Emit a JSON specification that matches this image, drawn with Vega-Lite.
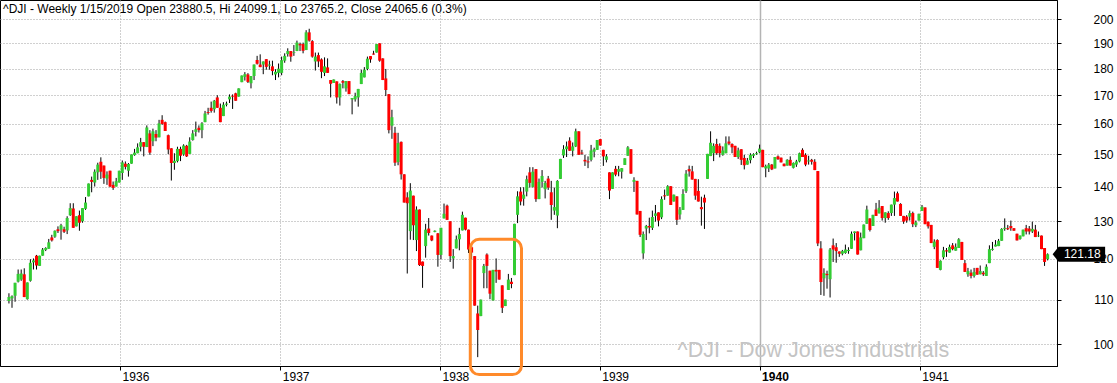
{
  "$schema": "https://vega.github.io/schema/vega-lite/v6.json",
  "width": 1057,
  "height": 366,
  "autosize": "none",
  "padding": {"left": 0, "top": 0, "right": 60, "bottom": 17},
  "background": "white",
  "config": {
    "view": {"stroke": "black", "strokeWidth": 1},
    "font": "Liberation Sans"
  },
  "title": {
    "text": "^DJI - Weekly 1/15/2019 Open 23880.5, Hi 24099.1, Lo 23765.2, Close 24065.6 (0.3%)",
    "anchor": "start",
    "frame": "group",
    "orient": "top",
    "offset": -25,
    "baseline": "alphabetic",
    "dx": 3,
    "fontSize": 12,
    "fontWeight": "normal",
    "color": "black",
    "font": "Liberation Sans"
  },
  "datasets": {
    "candles": [
      {"d":"1935-04-22","o":109.7,"h":111.5,"l":109.1,"c":110.6},
      {"d":"1935-04-29","o":110.3,"h":111,"l":108.1,"c":110.8},
      {"d":"1935-05-06","o":110.9,"h":114,"l":109.5,"c":114},
      {"d":"1935-05-13","o":114.3,"h":117.3,"l":114.1,"c":116.2},
      {"d":"1935-05-20","o":114.8,"h":117.3,"l":114.5,"c":116.3},
      {"d":"1935-05-27","o":116.1,"h":117.6,"l":110.6,"c":110.6},
      {"d":"1935-06-03","o":110.1,"h":114.1,"l":110,"c":114.1},
      {"d":"1935-06-10","o":114.5,"h":119.9,"l":114.3,"c":119},
      {"d":"1935-06-17","o":119.1,"h":120.1,"l":117.3,"c":119.6},
      {"d":"1935-06-24","o":120.8,"h":121,"l":117.3,"c":118.3},
      {"d":"1935-07-01","o":118.2,"h":120.8,"l":118.2,"c":120.8},
      {"d":"1935-07-08","o":120.8,"h":122.8,"l":120.8,"c":122.4},
      {"d":"1935-07-15","o":122.3,"h":123,"l":122,"c":122.8},
      {"d":"1935-07-22","o":122.6,"h":125.2,"l":122.6,"c":124.3},
      {"d":"1935-07-29","o":125.6,"h":126.3,"l":124.5,"c":124.8},
      {"d":"1935-08-05","o":125.8,"h":127.5,"l":125.5,"c":127.4},
      {"d":"1935-08-12","o":127.8,"h":128.6,"l":126.8,"c":127.3},
      {"d":"1935-08-19","o":127.7,"h":129.3,"l":125,"c":128.9},
      {"d":"1935-08-26","o":127.8,"h":128.5,"l":126.8,"c":127.1},
      {"d":"1935-09-02","o":127.5,"h":131.4,"l":126.5,"c":130.9},
      {"d":"1935-09-09","o":131.7,"h":135.1,"l":131.5,"c":133.7},
      {"d":"1935-09-16","o":133.6,"h":135.1,"l":128.2,"c":128.2},
      {"d":"1935-09-23","o":128.6,"h":131.4,"l":128.6,"c":131.4},
      {"d":"1935-09-30","o":131.7,"h":133,"l":127.4,"c":129.6},
      {"d":"1935-10-07","o":130,"h":133.7,"l":129.6,"c":133.7},
      {"d":"1935-10-14","o":133.5,"h":136.9,"l":133.2,"c":135.3},
      {"d":"1935-10-21","o":137.1,"h":140.9,"l":137.1,"c":140.9},
      {"d":"1935-10-28","o":142,"h":143,"l":138.3,"c":141.4},
      {"d":"1935-11-04","o":141.2,"h":145.2,"l":140,"c":144.5},
      {"d":"1935-11-11","o":144.3,"h":147.3,"l":142,"c":146.7},
      {"d":"1935-11-18","o":147.6,"h":149,"l":142.3,"c":144.5},
      {"d":"1935-11-25","o":146.4,"h":146.4,"l":140.8,"c":142.6},
      {"d":"1935-12-02","o":142.4,"h":144.6,"l":140.5,"c":143.6},
      {"d":"1935-12-09","o":144.8,"h":144.8,"l":139.8,"c":140},
      {"d":"1935-12-16","o":140.5,"h":141.5,"l":139,"c":139.6},
      {"d":"1935-12-23","o":140,"h":142.6,"l":140,"c":141.6},
      {"d":"1935-12-30","o":141.2,"h":144.8,"l":141.2,"c":144.8},
      {"d":"1936-01-06","o":144.1,"h":148,"l":142,"c":147.4},
      {"d":"1936-01-13","o":147,"h":147.7,"l":145.2,"c":146},
      {"d":"1936-01-20","o":144.8,"h":147.2,"l":143,"c":146.9},
      {"d":"1936-01-27","o":147,"h":149.9,"l":147,"c":149.9},
      {"d":"1936-02-03","o":149.7,"h":151.7,"l":149.5,"c":150.5},
      {"d":"1936-02-10","o":150.3,"h":153.5,"l":150.3,"c":152.2},
      {"d":"1936-02-17","o":152.4,"h":155.3,"l":150.9,"c":153.9},
      {"d":"1936-02-24","o":153.9,"h":153.9,"l":149.3,"c":152.4},
      {"d":"1936-03-02","o":152.3,"h":159.5,"l":152.3,"c":158.8},
      {"d":"1936-03-09","o":156.8,"h":157.9,"l":149.8,"c":150.5},
      {"d":"1936-03-16","o":154.2,"h":158.4,"l":152.6,"c":157.5},
      {"d":"1936-03-23","o":156.6,"h":157.9,"l":154.2,"c":155.4},
      {"d":"1936-03-30","o":155.5,"h":161.4,"l":155.5,"c":160.2},
      {"d":"1936-04-06","o":161.4,"h":163,"l":159.7,"c":160},
      {"d":"1936-04-13","o":160.6,"h":160.8,"l":157.6,"c":157.6},
      {"d":"1936-04-20","o":156.2,"h":156.4,"l":150,"c":151.5},
      {"d":"1936-04-27","o":151.9,"h":151.9,"l":141.8,"c":147.2},
      {"d":"1936-05-04","o":147.2,"h":150.3,"l":145.1,"c":147.9},
      {"d":"1936-05-11","o":147.8,"h":152.4,"l":147.4,"c":151.7},
      {"d":"1936-05-18","o":151.7,"h":152.4,"l":147.8,"c":149.5},
      {"d":"1936-05-25","o":149.9,"h":153.2,"l":149.5,"c":152.8},
      {"d":"1936-06-01","o":152.7,"h":153,"l":149.1,"c":149.3},
      {"d":"1936-06-08","o":150.1,"h":155.5,"l":150.1,"c":154.1},
      {"d":"1936-06-15","o":154.6,"h":157.9,"l":154.4,"c":156.8},
      {"d":"1936-06-22","o":157.3,"h":160.8,"l":155.8,"c":158.2},
      {"d":"1936-06-29","o":158.7,"h":159.5,"l":157.1,"c":157.9},
      {"d":"1936-07-06","o":157.9,"h":160.6,"l":155.2,"c":160.2},
      {"d":"1936-07-13","o":160.6,"h":164.5,"l":160.6,"c":163.6},
      {"d":"1936-07-20","o":164.1,"h":165.6,"l":163.2,"c":163.8},
      {"d":"1936-07-27","o":165.6,"h":167.8,"l":163.9,"c":164.5},
      {"d":"1936-08-03","o":165.1,"h":168.4,"l":163.9,"c":168.1},
      {"d":"1936-08-10","o":169.3,"h":170.1,"l":165.6,"c":165.6},
      {"d":"1936-08-17","o":165.6,"h":167.1,"l":160.6,"c":160.6},
      {"d":"1936-08-24","o":162.7,"h":167.6,"l":162.7,"c":166.7},
      {"d":"1936-08-31","o":166.7,"h":167.8,"l":166.1,"c":167.1},
      {"d":"1936-09-07","o":168.6,"h":170.4,"l":167.3,"c":169.6},
      {"d":"1936-09-14","o":169.9,"h":170.4,"l":165.2,"c":169.6},
      {"d":"1936-09-21","o":170.8,"h":171,"l":168.1,"c":168.1},
      {"d":"1936-09-28","o":169.6,"h":172.6,"l":169.6,"c":172.6},
      {"d":"1936-10-05","o":174.9,"h":177.4,"l":174.9,"c":177.4},
      {"d":"1936-10-12","o":176.9,"h":178.7,"l":175.5,"c":177.9},
      {"d":"1936-10-19","o":177.8,"h":178.3,"l":174.6,"c":175},
      {"d":"1936-10-26","o":174.5,"h":177.2,"l":172.6,"c":177.2},
      {"d":"1936-11-02","o":177.2,"h":181.6,"l":175.7,"c":181.6},
      {"d":"1936-11-09","o":183.4,"h":185,"l":181.6,"c":181.9},
      {"d":"1936-11-16","o":181.6,"h":185.6,"l":180.6,"c":180.6},
      {"d":"1936-11-23","o":181.6,"h":182.8,"l":177.9,"c":182.8},
      {"d":"1936-11-30","o":183.7,"h":183.7,"l":179.6,"c":180.7},
      {"d":"1936-12-07","o":181.2,"h":183.1,"l":179.6,"c":181.6},
      {"d":"1936-12-14","o":180.9,"h":183.1,"l":177.5,"c":179.1},
      {"d":"1936-12-21","o":177.8,"h":179.8,"l":175.7,"c":178.8},
      {"d":"1936-12-28","o":178.4,"h":182,"l":176.7,"c":180},
      {"d":"1937-01-04","o":178.4,"h":184.7,"l":177.5,"c":183.3},
      {"d":"1937-01-11","o":183.1,"h":186,"l":182.3,"c":185},
      {"d":"1937-01-18","o":185.7,"h":188,"l":184.7,"c":186.9},
      {"d":"1937-01-25","o":186.9,"h":186.9,"l":182.7,"c":184.7},
      {"d":"1937-02-01","o":186.1,"h":189.3,"l":185,"c":186.4},
      {"d":"1937-02-08","o":186.9,"h":191.1,"l":186.9,"c":190.3},
      {"d":"1937-02-15","o":189.7,"h":190.3,"l":186.9,"c":189.2},
      {"d":"1937-02-22","o":189.7,"h":190.3,"l":186,"c":187},
      {"d":"1937-03-01","o":187.3,"h":195.4,"l":187.3,"c":194.5},
      {"d":"1937-03-08","o":194.5,"h":196,"l":190.7,"c":191.1},
      {"d":"1937-03-15","o":190.9,"h":191.3,"l":184.3,"c":184.7},
      {"d":"1937-03-22","o":182.8,"h":186.3,"l":179.3,"c":184.7},
      {"d":"1937-03-29","o":185.3,"h":186.3,"l":180.6,"c":182.8},
      {"d":"1937-04-05","o":183.6,"h":184,"l":176.4,"c":178.8},
      {"d":"1937-04-12","o":178.4,"h":184.4,"l":177.2,"c":180.9},
      {"d":"1937-04-19","o":180.5,"h":184,"l":178.4,"c":178.4},
      {"d":"1937-04-26","o":175.7,"h":175.7,"l":169.3,"c":174.3},
      {"d":"1937-05-03","o":174.6,"h":175.9,"l":174.6,"c":175.9},
      {"d":"1937-05-10","o":175.2,"h":175.2,"l":167.1,"c":169.3},
      {"d":"1937-05-17","o":169.3,"h":174.4,"l":166.4,"c":174.2},
      {"d":"1937-05-24","o":175.3,"h":175.7,"l":172.6,"c":174.7},
      {"d":"1937-05-31","o":172.6,"h":175.3,"l":171.4,"c":175.3},
      {"d":"1937-06-07","o":175.3,"h":175.3,"l":170.5,"c":170.5},
      {"d":"1937-06-14","o":168.6,"h":169.1,"l":163.3,"c":169.1},
      {"d":"1937-06-21","o":168.6,"h":171,"l":167.8,"c":169.8},
      {"d":"1937-06-28","o":169.3,"h":172.4,"l":166,"c":172.4},
      {"d":"1937-07-05","o":174.2,"h":179.6,"l":174.2,"c":178.4},
      {"d":"1937-07-12","o":176.7,"h":180.6,"l":176.7,"c":179.6},
      {"d":"1937-07-19","o":179.9,"h":184.7,"l":179.4,"c":183.9},
      {"d":"1937-07-26","o":184.9,"h":184.9,"l":182.3,"c":183.6},
      {"d":"1937-08-02","o":185.9,"h":187,"l":185.5,"c":185.5},
      {"d":"1937-08-09","o":186.3,"h":189.7,"l":186.3,"c":189.7},
      {"d":"1937-08-16","o":190,"h":190,"l":182.7,"c":183.1},
      {"d":"1937-08-23","o":184,"h":184,"l":175.7,"c":175.7},
      {"d":"1937-08-30","o":176.3,"h":179.9,"l":169.8,"c":172},
      {"d":"1937-09-06","o":170.5,"h":170.5,"l":156.8,"c":157.9},
      {"d":"1937-09-13","o":159.4,"h":164.9,"l":155,"c":162.3},
      {"d":"1937-09-20","o":157,"h":159,"l":146.3,"c":147.3},
      {"d":"1937-09-27","o":147.5,"h":157,"l":146.5,"c":153.6},
      {"d":"1937-10-04","o":154,"h":154.1,"l":142.1,"c":143.7},
      {"d":"1937-10-11","o":143.7,"h":143.7,"l":135.3,"c":135.3},
      {"d":"1937-10-18","o":136.8,"h":138.3,"l":116.3,"c":135.1},
      {"d":"1937-10-25","o":127.3,"h":141,"l":125,"c":138.8},
      {"d":"1937-11-01","o":137.3,"h":137.3,"l":124.9,"c":128.9},
      {"d":"1937-11-08","o":124.9,"h":134.2,"l":122,"c":133.3},
      {"d":"1937-11-15","o":133.3,"h":133.3,"l":118.2,"c":118.4},
      {"d":"1937-11-22","o":119.3,"h":119.3,"l":112.8,"c":118.2},
      {"d":"1937-11-29","o":123.3,"h":129.3,"l":120.3,"c":127.7},
      {"d":"1937-12-06","o":128,"h":130.9,"l":126.1,"c":126.8},
      {"d":"1937-12-13","o":126.1,"h":126.1,"l":124.6,"c":124.8},
      {"d":"1937-12-20","o":127.1,"h":127.5,"l":127,"c":127.4},
      {"d":"1937-12-27","o":126.7,"h":126.8,"l":118,"c":121},
      {"d":"1938-01-03","o":121,"h":128.2,"l":119.9,"c":128.2},
      {"d":"1938-01-10","o":130.8,"h":135,"l":130.8,"c":132.1},
      {"d":"1938-01-17","o":134.4,"h":134.7,"l":130.4,"c":130.4},
      {"d":"1938-01-24","o":130,"h":130,"l":119.2,"c":120.7},
      {"d":"1938-01-31","o":120.1,"h":122.5,"l":117.5,"c":120.7},
      {"d":"1938-02-07","o":122.7,"h":126.1,"l":122.7,"c":125.1},
      {"d":"1938-02-14","o":125.1,"h":128.2,"l":122.2,"c":126.5},
      {"d":"1938-02-21","o":127.5,"h":132.7,"l":127.5,"c":131.8},
      {"d":"1938-02-28","o":131,"h":131,"l":127.5,"c":127.7},
      {"d":"1938-03-07","o":127.7,"h":127.7,"l":121.5,"c":122.4},
      {"d":"1938-03-14","o":123,"h":123.3,"l":119.9,"c":121.6},
      {"d":"1938-03-21","o":120.7,"h":120.7,"l":108.6,"c":108.6},
      {"d":"1938-03-28","o":106.8,"h":108.6,"l":97.3,"c":103.1},
      {"d":"1938-04-04","o":106.2,"h":110,"l":106.2,"c":110},
      {"d":"1938-04-11","o":116.4,"h":118.7,"l":112.7,"c":118.2},
      {"d":"1938-04-18","o":121.1,"h":121.4,"l":112.7,"c":118.2},
      {"d":"1938-04-25","o":117,"h":117,"l":110.1,"c":111.4},
      {"d":"1938-05-02","o":109.8,"h":117.2,"l":109.8,"c":117.2},
      {"d":"1938-05-09","o":117.2,"h":120.1,"l":114,"c":116.8},
      {"d":"1938-05-16","o":117.2,"h":117.2,"l":114.8,"c":114.8},
      {"d":"1938-05-23","o":113.4,"h":113.4,"l":106.9,"c":108.1},
      {"d":"1938-05-30","o":108.5,"h":110,"l":108.5,"c":110},
      {"d":"1938-06-06","o":112.3,"h":116.2,"l":112.3,"c":114.8},
      {"d":"1938-06-13","o":114.3,"h":115.2,"l":112.7,"c":113.7},
      {"d":"1938-06-20","o":115.9,"h":129.3,"l":115.9,"c":129.3},
      {"d":"1938-06-27","o":131.8,"h":138.6,"l":129.5,"c":137.1},
      {"d":"1938-07-04","o":138.5,"h":139.8,"l":134.5,"c":135.6},
      {"d":"1938-07-11","o":136.4,"h":139.8,"l":134.4,"c":137.6},
      {"d":"1938-07-18","o":138.5,"h":143.3,"l":137.1,"c":142.2},
      {"d":"1938-07-25","o":144.3,"h":145.9,"l":139.7,"c":141.1},
      {"d":"1938-08-01","o":139.9,"h":145.9,"l":139.7,"c":144.5},
      {"d":"1938-08-08","o":145.3,"h":145.3,"l":135.5,"c":136.3},
      {"d":"1938-08-15","o":136.3,"h":142.4,"l":136.3,"c":141.4},
      {"d":"1938-08-22","o":141.4,"h":145,"l":139.7,"c":143.2},
      {"d":"1938-08-29","o":139.2,"h":141.7,"l":136.5,"c":141.1},
      {"d":"1938-09-05","o":142.4,"h":143.2,"l":139,"c":139.7},
      {"d":"1938-09-12","o":138.3,"h":141.7,"l":130.4,"c":134.6},
      {"d":"1938-09-19","o":133,"h":139.7,"l":131.8,"c":134},
      {"d":"1938-09-26","o":131.6,"h":141.9,"l":128.1,"c":141.7},
      {"d":"1938-10-03","o":142.3,"h":148.5,"l":142.3,"c":148.5},
      {"d":"1938-10-10","o":149.6,"h":152.9,"l":148.8,"c":151.6},
      {"d":"1938-10-17","o":151.6,"h":154.1,"l":149.1,"c":152.5},
      {"d":"1938-10-24","o":154.4,"h":155.5,"l":151.1,"c":151.1},
      {"d":"1938-10-31","o":151.1,"h":153.8,"l":149.3,"c":152.5},
      {"d":"1938-11-07","o":152.5,"h":158.4,"l":152.3,"c":157.5},
      {"d":"1938-11-14","o":157.5,"h":157.5,"l":149.8,"c":149.8},
      {"d":"1938-11-21","o":150.5,"h":151.4,"l":149.8,"c":150.2},
      {"d":"1938-11-28","o":148.2,"h":149.8,"l":146.3,"c":147.7},
      {"d":"1938-12-05","o":147.7,"h":149.3,"l":145.6,"c":147.4},
      {"d":"1938-12-12","o":148.2,"h":153,"l":147.7,"c":151.2},
      {"d":"1938-12-19","o":150.8,"h":152.1,"l":149,"c":151.6},
      {"d":"1938-12-26","o":151.4,"h":154.6,"l":151.4,"c":154.6},
      {"d":"1939-01-02","o":154.9,"h":154.9,"l":152.8,"c":152.8},
      {"d":"1939-01-09","o":151.4,"h":151.4,"l":146.3,"c":149.3},
      {"d":"1939-01-16","o":148.2,"h":150,"l":147.4,"c":149.3},
      {"d":"1939-01-23","o":144.3,"h":144.3,"l":136.3,"c":138.8},
      {"d":"1939-01-30","o":139.3,"h":144.3,"l":139.3,"c":144.3},
      {"d":"1939-02-06","o":145.4,"h":146.3,"l":143.1,"c":143.6},
      {"d":"1939-02-13","o":144.5,"h":146.3,"l":143.1,"c":145.3},
      {"d":"1939-02-20","o":144.5,"h":145.6,"l":142.4,"c":145.6},
      {"d":"1939-02-27","o":146.6,"h":148.7,"l":146.6,"c":148.7},
      {"d":"1939-03-06","o":149.5,"h":152.6,"l":149.5,"c":152.2},
      {"d":"1939-03-13","o":151.6,"h":151.6,"l":143.9,"c":143.9},
      {"d":"1939-03-20","o":141.4,"h":142.8,"l":138.4,"c":142},
      {"d":"1939-03-27","o":141.7,"h":141.7,"l":131.9,"c":131.9},
      {"d":"1939-04-03","o":132.9,"h":132.9,"l":125.7,"c":126.3},
      {"d":"1939-04-10","o":121.4,"h":127.2,"l":120,"c":126.5},
      {"d":"1939-04-17","o":128,"h":129,"l":124.9,"c":128.7},
      {"d":"1939-04-24","o":128.7,"h":131,"l":126.7,"c":128.3},
      {"d":"1939-05-01","o":128.2,"h":133,"l":127.6,"c":131.2},
      {"d":"1939-05-08","o":131.5,"h":134.6,"l":129.9,"c":132.2},
      {"d":"1939-05-15","o":132.5,"h":132.5,"l":128.6,"c":130.2},
      {"d":"1939-05-22","o":131.1,"h":137.1,"l":130.6,"c":136.3},
      {"d":"1939-05-29","o":137.4,"h":139.1,"l":136.1,"c":137.1},
      {"d":"1939-06-05","o":137.3,"h":140.4,"l":137.3,"c":140.1},
      {"d":"1939-06-12","o":140.1,"h":140.1,"l":134.6,"c":134.6},
      {"d":"1939-06-19","o":135.6,"h":137.6,"l":135.6,"c":137.6},
      {"d":"1939-06-26","o":137.1,"h":137.1,"l":129,"c":130.4},
      {"d":"1939-07-03","o":131.9,"h":134,"l":130.5,"c":133.3},
      {"d":"1939-07-10","o":133.2,"h":139.2,"l":133.2,"c":137.8},
      {"d":"1939-07-17","o":138.6,"h":145,"l":138.1,"c":143.9},
      {"d":"1939-07-24","o":145.3,"h":146.4,"l":143,"c":144.6},
      {"d":"1939-07-31","o":144.6,"h":146.3,"l":142.1,"c":142.1},
      {"d":"1939-08-07","o":142.3,"h":142.3,"l":136.1,"c":137.3},
      {"d":"1939-08-14","o":138.7,"h":142.2,"l":135.6,"c":135.6},
      {"d":"1939-08-21","o":134,"h":137,"l":128.8,"c":133.4},
      {"d":"1939-08-28","o":136.7,"h":137.6,"l":127.9,"c":135.3},
      {"d":"1939-09-04","o":142.3,"h":150.1,"l":142.3,"c":150.1},
      {"d":"1939-09-11","o":149.4,"h":157.5,"l":149.4,"c":153.7},
      {"d":"1939-09-18","o":150.3,"h":153.5,"l":147.8,"c":152.7},
      {"d":"1939-09-25","o":153.3,"h":155,"l":149.8,"c":150.3},
      {"d":"1939-10-02","o":152.7,"h":153.5,"l":149,"c":150.3},
      {"d":"1939-10-09","o":149.8,"h":152.5,"l":149.5,"c":151.2},
      {"d":"1939-10-16","o":150.3,"h":155.8,"l":150.3,"c":153.5},
      {"d":"1939-10-23","o":154.1,"h":155.8,"l":152.9,"c":153.4},
      {"d":"1939-10-30","o":153.3,"h":153.5,"l":150.3,"c":152.2},
      {"d":"1939-11-06","o":152.7,"h":152.7,"l":149.1,"c":149.1},
      {"d":"1939-11-13","o":149.1,"h":152.1,"l":148.5,"c":151.2},
      {"d":"1939-11-20","o":151.6,"h":151.6,"l":146.6,"c":148.2},
      {"d":"1939-11-27","o":148.8,"h":149.8,"l":145.2,"c":146.5},
      {"d":"1939-12-04","o":146.7,"h":148.8,"l":146.7,"c":148},
      {"d":"1939-12-11","o":148.1,"h":150.3,"l":147.1,"c":149.8},
      {"d":"1939-12-18","o":149.5,"h":150.3,"l":148.8,"c":150},
      {"d":"1939-12-25","o":150,"h":150.8,"l":149.8,"c":150.3},
      {"d":"1940-01-01","o":150.6,"h":153.1,"l":150.3,"c":151.8},
      {"d":"1940-01-08","o":151.4,"h":151.4,"l":145.9,"c":145.9},
      {"d":"1940-01-15","o":145.5,"h":146.7,"l":142.8,"c":146.2},
      {"d":"1940-01-22","o":145.5,"h":147.2,"l":144.4,"c":146.7},
      {"d":"1940-01-29","o":146.7,"h":146.9,"l":145,"c":145.2},
      {"d":"1940-02-05","o":145.5,"h":149.1,"l":145.5,"c":149.1},
      {"d":"1940-02-12","o":149.3,"h":149.6,"l":148.2,"c":148.4},
      {"d":"1940-02-19","o":148.9,"h":148.9,"l":147.4,"c":147.4},
      {"d":"1940-02-26","o":147,"h":147,"l":146.2,"c":146.2},
      {"d":"1940-03-04","o":146.4,"h":148.4,"l":146.4,"c":148.2},
      {"d":"1940-03-11","o":148.2,"h":149.3,"l":146.4,"c":146.4},
      {"d":"1940-03-18","o":145.7,"h":147.4,"l":145.5,"c":147.2},
      {"d":"1940-03-25","o":146.7,"h":148.2,"l":146,"c":147.7},
      {"d":"1940-04-01","o":147.7,"h":150.5,"l":147.4,"c":150.3},
      {"d":"1940-04-08","o":151.4,"h":151.9,"l":149.1,"c":149.1},
      {"d":"1940-04-15","o":149.8,"h":150.3,"l":146.2,"c":146.7},
      {"d":"1940-04-22","o":147.7,"h":149.5,"l":146.7,"c":148},
      {"d":"1940-04-29","o":148.2,"h":148.5,"l":146.7,"c":147.6},
      {"d":"1940-05-06","o":147.6,"h":148.4,"l":145,"c":145},
      {"d":"1940-05-13","o":144.7,"h":144.7,"l":123.3,"c":124},
      {"d":"1940-05-20","o":122.7,"h":124.6,"l":111.1,"c":114.2},
      {"d":"1940-05-27","o":115.1,"h":117.6,"l":110.9,"c":116.4},
      {"d":"1940-06-03","o":116.2,"h":117,"l":112.6,"c":115.9},
      {"d":"1940-06-10","o":114.9,"h":122.8,"l":110.5,"c":122.4},
      {"d":"1940-06-17","o":123.5,"h":125.3,"l":119.2,"c":122.4},
      {"d":"1940-06-24","o":123,"h":124.1,"l":119,"c":122},
      {"d":"1940-07-01","o":121.9,"h":121.9,"l":120.5,"c":121.3},
      {"d":"1940-07-08","o":121.3,"h":122.3,"l":120.9,"c":122},
      {"d":"1940-07-15","o":121.5,"h":123.7,"l":121.3,"c":122.4},
      {"d":"1940-07-22","o":122,"h":123,"l":121.3,"c":122.3},
      {"d":"1940-07-29","o":122.6,"h":127.2,"l":122.6,"c":126.6},
      {"d":"1940-08-05","o":126.8,"h":127.2,"l":124.8,"c":127.2},
      {"d":"1940-08-12","o":127.2,"h":127.2,"l":121.1,"c":121.1},
      {"d":"1940-08-19","o":122.2,"h":126.9,"l":122.2,"c":125.6},
      {"d":"1940-08-26","o":125.4,"h":129.1,"l":125.4,"c":129.1},
      {"d":"1940-09-02","o":129.3,"h":134.4,"l":129.3,"c":133.3},
      {"d":"1940-09-09","o":130.8,"h":130.8,"l":127.2,"c":127.6},
      {"d":"1940-09-16","o":128.7,"h":131.8,"l":128.7,"c":131.8},
      {"d":"1940-09-23","o":133.3,"h":135.2,"l":131.5,"c":131.5},
      {"d":"1940-09-30","o":132.2,"h":136,"l":132.2,"c":133.8},
      {"d":"1940-10-07","o":134.3,"h":134.3,"l":130.2,"c":130.9},
      {"d":"1940-10-14","o":130.9,"h":132.5,"l":129.6,"c":132.5},
      {"d":"1940-10-21","o":132.3,"h":132.8,"l":130.4,"c":130.9},
      {"d":"1940-10-28","o":132.3,"h":134.7,"l":131.5,"c":134.7},
      {"d":"1940-11-04","o":134.7,"h":138.5,"l":131.5,"c":136.6},
      {"d":"1940-11-11","o":138,"h":138.5,"l":135.6,"c":135.6},
      {"d":"1940-11-18","o":134.9,"h":135.1,"l":131.5,"c":131.5},
      {"d":"1940-11-25","o":131.5,"h":131.5,"l":129.3,"c":129.9},
      {"d":"1940-12-02","o":131.3,"h":131.7,"l":129.6,"c":130.2},
      {"d":"1940-12-09","o":131.3,"h":133,"l":130.2,"c":132.3},
      {"d":"1940-12-16","o":132.3,"h":132.7,"l":128.4,"c":129.2},
      {"d":"1940-12-23","o":128.9,"h":130.2,"l":128.4,"c":129.7},
      {"d":"1940-12-30","o":130.2,"h":132.1,"l":130.2,"c":132.1},
      {"d":"1941-01-06","o":132.9,"h":134.6,"l":132.9,"c":134.1},
      {"d":"1941-01-13","o":133.9,"h":133.9,"l":129.2,"c":129.2},
      {"d":"1941-01-20","o":129.9,"h":129.9,"l":128,"c":128.6},
      {"d":"1941-01-27","o":129,"h":129,"l":124.1,"c":124.1},
      {"d":"1941-02-03","o":123.1,"h":125.1,"l":122.5,"c":124.5},
      {"d":"1941-02-10","o":124.9,"h":125.1,"l":117.7,"c":117.7},
      {"d":"1941-02-17","o":117.2,"h":119.6,"l":117.1,"c":119.5},
      {"d":"1941-02-24","o":120.4,"h":123.1,"l":119.9,"c":122.2},
      {"d":"1941-03-03","o":122.2,"h":122.8,"l":120.5,"c":121.9},
      {"d":"1941-03-10","o":121.6,"h":123.7,"l":121.6,"c":123.1},
      {"d":"1941-03-17","o":123.5,"h":124.1,"l":122.2,"c":122.5},
      {"d":"1941-03-24","o":122.1,"h":124,"l":122.1,"c":123.1},
      {"d":"1941-03-31","o":122.8,"h":125.4,"l":122.8,"c":125.1},
      {"d":"1941-04-07","o":124.4,"h":124.4,"l":119.7,"c":119.7},
      {"d":"1941-04-14","o":118.9,"h":119.7,"l":116.7,"c":116.7},
      {"d":"1941-04-21","o":116.1,"h":117.7,"l":115.5,"c":116.9},
      {"d":"1941-04-28","o":116.5,"h":117.3,"l":115.1,"c":115.7},
      {"d":"1941-05-05","o":115.7,"h":117.7,"l":115.3,"c":116.7},
      {"d":"1941-05-12","o":117.7,"h":117.7,"l":116,"c":116},
      {"d":"1941-05-19","o":116.1,"h":118.3,"l":116.1,"c":116.9},
      {"d":"1941-05-26","o":116.5,"h":116.9,"l":115.7,"c":116.1},
      {"d":"1941-06-02","o":115.7,"h":118.6,"l":115.7,"c":118},
      {"d":"1941-06-09","o":118.9,"h":123.5,"l":118.9,"c":122.5},
      {"d":"1941-06-16","o":122.3,"h":124.4,"l":122.1,"c":122.6},
      {"d":"1941-06-23","o":123.2,"h":124.9,"l":123.2,"c":123.7},
      {"d":"1941-06-30","o":123.3,"h":125.2,"l":123.3,"c":124.7},
      {"d":"1941-07-07","o":124.7,"h":128.1,"l":124.7,"c":127.9},
      {"d":"1941-07-14","o":127.9,"h":130.8,"l":127.4,"c":128.2},
      {"d":"1941-07-21","o":128.1,"h":129,"l":127.6,"c":127.8},
      {"d":"1941-07-28","o":128.7,"h":130.2,"l":127.4,"c":128.1},
      {"d":"1941-08-04","o":128.1,"h":128.1,"l":127.4,"c":127.4},
      {"d":"1941-08-11","o":126.6,"h":126.6,"l":124.8,"c":124.8},
      {"d":"1941-08-18","o":125.2,"h":126.1,"l":125,"c":126.1},
      {"d":"1941-08-25","o":125.9,"h":127.7,"l":125.9,"c":127.7},
      {"d":"1941-09-01","o":128.1,"h":129,"l":126.4,"c":127.2},
      {"d":"1941-09-08","o":128,"h":128.7,"l":126.4,"c":127.2},
      {"d":"1941-09-15","o":127.2,"h":129.9,"l":126.8,"c":127.9},
      {"d":"1941-09-22","o":127.7,"h":129,"l":125.7,"c":125.7},
      {"d":"1941-09-29","o":125.9,"h":127.2,"l":125.7,"c":126.1},
      {"d":"1941-10-06","o":126.1,"h":126.1,"l":122.5,"c":122.5},
      {"d":"1941-10-13","o":122.8,"h":122.8,"l":118.2,"c":119.2},
      {"d":"1941-10-20","o":119.9,"h":121.4,"l":119.6,"c":121.18}
    ],
    "box": [{"start":"1938-03-11","end":"1938-07-06","lo":93.74,"hi":125.1}],
    "watermark": [{"d":"1940-05-03","v":98.58,"t":"^DJI - Dow Jones Industrials"}],
    "last": [{"d":"1941-10-20","v":121.18}]
  },
  "layer": [
    {
      "data": {"name": "candles"},
      "mark": {"type": "rule", "color": "black", "strokeWidth": 1},
      "encoding": {
        "x": {
          "field": "d", "type": "temporal", "title": null,
          "scale": {"type": "utc", "domain": [{"year":1935,"month":4,"date":13,"utc":true},{"year":1941,"month":10,"date":30,"utc":true}]},
          "axis": {
            "values": [
              {"year":1936,"month":1,"date":1,"utc":true},
              {"year":1937,"month":1,"date":1,"utc":true},
              {"year":1938,"month":1,"date":1,"utc":true},
              {"year":1939,"month":1,"date":1,"utc":true},
              {"year":1940,"month":1,"date":1,"utc":true},
              {"year":1941,"month":1,"date":1,"utc":true}
            ],
            "format": "%Y",
            "labelAlign": "left",
            "labelOffset": 2,
            "labelBaseline": "top",
            "labelPadding": 1,
            "labelFont": "Liberation Sans",
            "labelFontSize": 12,
            "labelColor": "black",
            "labelFontWeight": {"condition": {"test": "utcyear(datum.value) == 1940", "value": "bold"}, "value": "normal"},
            "labelFlush": false,
            "labelOverlap": false,
            "tickSize": 4,
            "tickColor": "black",
            "domainColor": "black",
            "grid": true,
            "gridColor": {"condition": {"test": "utcyear(datum.value) == 1940", "value": "#b4b4b4"}, "value": "#a0a0a0"},
            "gridDash": {"condition": {"test": "utcyear(datum.value) == 1940", "value": []}, "value": [1, 2]},
            "gridWidth": {"condition": {"test": "utcyear(datum.value) == 1940", "value": 1.5}, "value": 1}
          }
        },
        "y": {
          "field": "l", "type": "quantitative", "title": null,
          "scale": {"type": "log", "domain": [95.48, 208.4], "nice": false, "zero": false},
          "axis": {
            "orient": "right",
            "values": [100, 110, 120, 130, 140, 150, 160, 170, 180, 190, 200],
            "format": "d",
            "labelAlign": "right",
            "labelBaseline": "middle",
            "labelPadding": 52,
            "labelFont": "Liberation Sans",
            "labelFontSize": 12,
            "labelColor": "black",
            "labelFlush": false,
            "labelOverlap": false,
            "tickSize": 4,
            "tickColor": "black",
            "domainColor": "black",
            "grid": true,
            "gridColor": "#a0a0a0",
            "gridDash": [1, 2]
          }
        },
        "y2": {"field": "h"}
      }
    },
    {
      "data": {"name": "candles"},
      "mark": {"type": "bar", "size": 3},
      "encoding": {
        "x": {"field": "d", "type": "temporal", "title": null},
        "y": {"field": "o", "type": "quantitative", "title": null},
        "y2": {"field": "c"},
        "color": {"condition": {"test": "datum.c >= datum.o", "value": "#33cc33"}, "value": "#ff0000"}
      }
    },
    {
      "data": {"name": "watermark"},
      "mark": {"type": "text", "font": "Liberation Sans", "fontSize": 21.5, "color": "#c4c4c4", "align": "center", "baseline": "middle"},
      "encoding": {
        "x": {"field": "d", "type": "temporal", "title": null},
        "y": {"field": "v", "type": "quantitative", "title": null},
        "text": {"field": "t"}
      }
    },
    {
      "data": {"name": "box"},
      "mark": {"type": "rect", "filled": false, "color": "#ff8a2a", "strokeWidth": 3, "cornerRadius": 9, "clip": false},
      "encoding": {
        "x": {"field": "start", "type": "temporal", "title": null},
        "x2": {"field": "end"},
        "y": {"field": "lo", "type": "quantitative", "title": null},
        "y2": {"field": "hi"}
      }
    },
    {
      "data": {"name": "last"},
      "mark": {"type": "point", "shape": "M5,0L11,-7.5L57.5,-7.5L57.5,7.5L11,7.5Z", "size": 4, "filled": true, "color": "black", "opacity": 1, "clip": false},
      "encoding": {
        "x": {"field": "d", "type": "temporal", "title": null},
        "y": {"field": "v", "type": "quantitative", "title": null}
      }
    },
    {
      "data": {"name": "last"},
      "mark": {"type": "text", "font": "Liberation Sans", "fontSize": 12, "color": "white", "align": "center", "baseline": "middle", "dx": 34.6, "clip": false},
      "encoding": {
        "x": {"field": "d", "type": "temporal", "title": null},
        "y": {"field": "v", "type": "quantitative", "title": null},
        "text": {"field": "v", "type": "quantitative", "format": ".2f"}
      }
    }
  ]
}
